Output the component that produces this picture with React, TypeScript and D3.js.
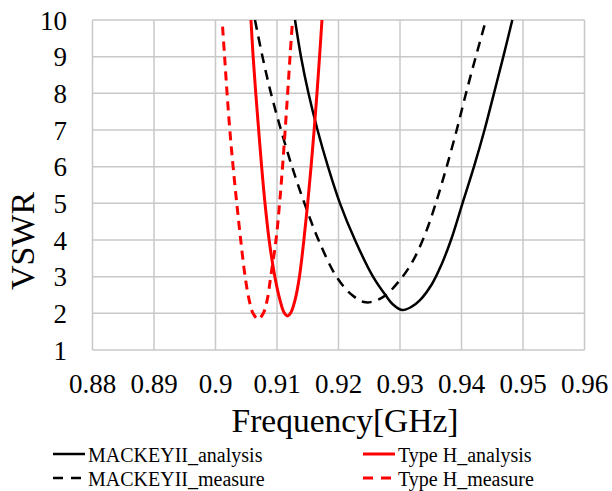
import React from 'react';
import * as d3 from 'd3';

type Pt = [number, number];

const xTicks = [0.88, 0.89, 0.9, 0.91, 0.92, 0.93, 0.94, 0.95, 0.96];
const yTicks = [1, 2, 3, 4, 5, 6, 7, 8, 9, 10];

// [frequency GHz, VSWR]
const mackeyAnalysis: Pt[] = [
  [0.91293, 10], [0.9139, 9], [0.91512, 8], [0.91659, 7], [0.91829, 6],
  [0.92024, 5], [0.92268, 4], [0.92561, 3], [0.92784, 2.45], [0.92886, 2.24],
  [0.93033, 2.09], [0.93179, 2.17], [0.93325, 2.36], [0.9352, 2.8],
  [0.93667, 3.3], [0.93829, 4], [0.94016, 5], [0.94203, 6], [0.94374, 7],
  [0.94528, 8], [0.9468, 9], [0.94826, 10],
];

const mackeyMeasure: Pt[] = [
  [0.90642, 10], [0.90764, 9], [0.90902, 8], [0.91065, 7], [0.91244, 6],
  [0.91447, 5], [0.91675, 4], [0.91967, 3], [0.9222, 2.5], [0.92447, 2.3],
  [0.92728, 2.45], [0.93, 2.91], [0.93216, 3.45], [0.93434, 4.27],
  [0.93613, 5.17], [0.93759, 6], [0.93922, 7], [0.94073, 8], [0.94233, 9],
  [0.94398, 10],
];

const typeHAnalysis: Pt[] = [
  [0.90577, 10], [0.90612, 9], [0.90655, 8], [0.90702, 7], [0.9075, 6],
  [0.90805, 5], [0.90872, 4], [0.90965, 3], [0.91049, 2.36], [0.91112, 2.03],
  [0.9117, 1.93], [0.91228, 2.03], [0.91293, 2.36], [0.91365, 3],
  [0.91437, 4], [0.91499, 5], [0.91554, 6], [0.91604, 7], [0.9165, 8],
  [0.91692, 9], [0.91731, 10],
];

const typeHMeasure: Pt[] = [
  [0.90115, 9.82], [0.90148, 9], [0.90188, 8], [0.90233, 7], [0.90286, 6],
  [0.90346, 5], [0.9041, 4], [0.90482, 3], [0.90548, 2.36], [0.9061, 2],
  [0.90696, 1.84], [0.90777, 2], [0.9084, 2.36], [0.90898, 3], [0.90984, 4],
  [0.91042, 5], [0.9109, 6], [0.91133, 7], [0.91173, 8], [0.91212, 9],
  [0.91247, 9.86],
];

const series = [
  { name: 'MACKEYII_analysis', data: mackeyAnalysis, color: '#000000', dash: null, width: 2.5 },
  { name: 'MACKEYII_measure', data: mackeyMeasure, color: '#000000', dash: '10,7', width: 2.5 },
  { name: 'Type H_analysis', data: typeHAnalysis, color: '#ff0000', dash: null, width: 3 },
  { name: 'Type H_measure', data: typeHMeasure, color: '#ff0000', dash: '9,6', width: 3 },
];

const W = 612;
const H = 491;
const margin = { left: 92.5, right: 27.5, top: 20, bottom: 141 };
const font = '"Liberation Serif", "Times New Roman", serif';

export default function App() {
  const x = d3.scaleLinear().domain([0.88, 0.96]).range([margin.left, W - margin.right]);
  const y = d3.scaleLinear().domain([1, 10]).range([H - margin.bottom, margin.top]);
  const line = d3
    .line<Pt>()
    .x((d) => x(d[0]))
    .y((d) => y(d[1]))
    .curve(d3.curveCatmullRom.alpha(0.5));

  const legendPos = [
    { lx: 53, ly: 454 },
    { lx: 53, ly: 478 },
    { lx: 363, ly: 454 },
    { lx: 363, ly: 478 },
  ];

  return (
    <svg
      width={W}
      height={H}
      style={{ position: 'absolute', left: 0, top: 0, background: '#fff' }}
      fontFamily={font}
    >
      <rect width={W} height={H} fill="#fff" />
      <g>
        {xTicks.map((t) => (
          <line key={'gx' + t} x1={x(t)} x2={x(t)} y1={y(1)} y2={y(10)} stroke="#c8c8c8" strokeWidth={1.5} />
        ))}
        {yTicks.map((t) => (
          <line key={'gy' + t} x1={x(0.88)} x2={x(0.96)} y1={y(t)} y2={y(t)} stroke="#c8c8c8" strokeWidth={1.5} />
        ))}
      </g>
      <defs>
        <clipPath id="plot">
          <rect x={x(0.88)} y={y(10) - 2} width={x(0.96) - x(0.88)} height={y(1) - y(10) + 2} />
        </clipPath>
      </defs>
      <g clipPath="url(#plot)">
        {series.map((s) => (
          <path
            key={s.name}
            d={line(s.data) || ''}
            fill="none"
            stroke={s.color}
            strokeWidth={s.width}
            strokeDasharray={s.dash || undefined}
          />
        ))}
      </g>
      <g fontSize={27} fill="#000">
        {xTicks.map((t) => (
          <text key={'tx' + t} x={x(t)} y={393} textAnchor="middle">
            {d3.format('')(t)}
          </text>
        ))}
        {yTicks.map((t) => (
          <text key={'ty' + t} x={67} y={y(t) + 9.5} textAnchor="end">
            {t}
          </text>
        ))}
      </g>
      <text x={345} y={432} fontSize={33.5} textAnchor="middle">
        Frequency[GHz]
      </text>
      <text transform="translate(34,241) rotate(-90)" fontSize={34} textAnchor="middle">
        VSWR
      </text>
      <g fontSize={20}>
        {series.map((s, i) => (
          <g key={'lg' + s.name}>
            <line
              x1={legendPos[i].lx}
              x2={legendPos[i].lx + 32}
              y1={legendPos[i].ly}
              y2={legendPos[i].ly}
              stroke={s.color}
              strokeWidth={s.width}
              strokeDasharray={s.dash ? '10,8' : undefined}
            />
            <text x={legendPos[i].lx + 35} y={legendPos[i].ly + 7.5}>
              {s.name}
            </text>
          </g>
        ))}
      </g>
    </svg>
  );
}
